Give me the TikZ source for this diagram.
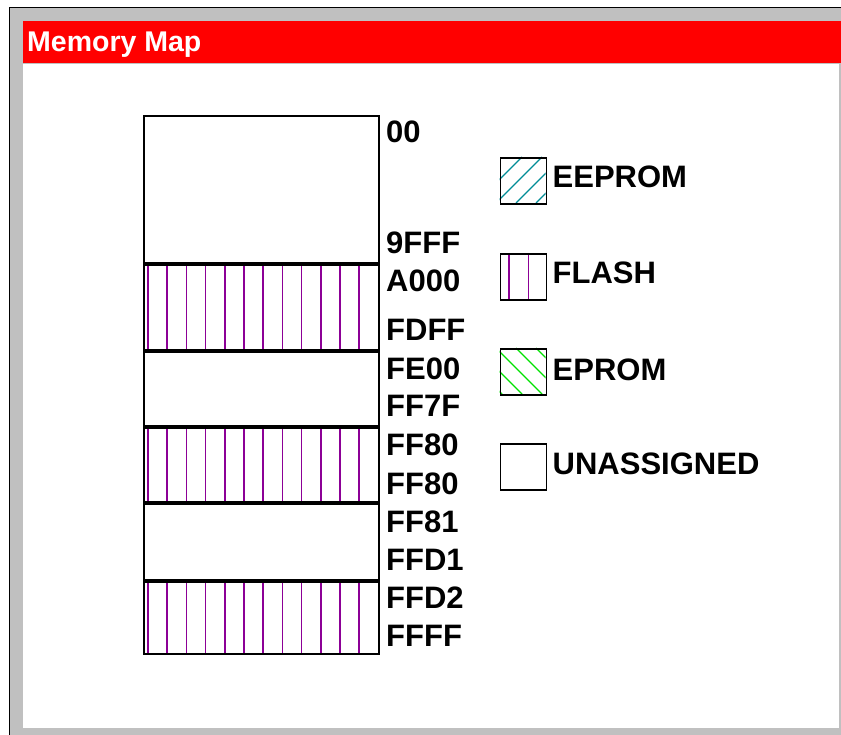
\documentclass[tikz,border=0pt]{standalone}
\usepackage{fontspec}
\setmainfont{Liberation Sans}
\definecolor{winred}{RGB}{255,0,0}
\definecolor{wingray}{RGB}{192,192,192}
\definecolor{flashpurple}{RGB}{140,0,150}
\definecolor{eeteal}{RGB}{0,140,150}
\definecolor{epgreen}{RGB}{0,225,0}
\begin{document}
\begin{tikzpicture}[x=1pt,y=-1pt,
  region/.style={rectangle, draw=black, line width=1.8pt, fill=white, inner sep=0pt,
    minimum width=235pt, anchor=north west},
  flash/.style={path picture={
    \foreach \i in {0,...,12}{
      \draw[flashpurple, line width=1.6pt]
        ([xshift={4pt+19.2pt*\i}]path picture bounding box.north west) --
        ([xshift={4pt+19.2pt*\i}]path picture bounding box.south west);}}},
  sep/.style={line width=3.6pt, black},
  addr/.style={anchor=base west, inner sep=0pt, font=\fontsize{31}{31}\selectfont\bfseries},
  legbox/.style={rectangle, draw=black, line width=1.8pt, fill=none, inner sep=0pt,
    minimum width=46pt, minimum height=46pt, anchor=north west},
  legtext/.style={anchor=base west, inner sep=0pt, font=\fontsize{31}{31}\selectfont\bfseries}]
\useasboundingbox (0,0) rectangle (841,735);
% window frame
\fill[white] (0,0) rectangle (841,735);
\fill[wingray] (9,7) rectangle (841,735);
\fill[white] (23,64) rectangle (839,728);
\fill[winred] (23,21) rectangle (841,63);
\draw[black, line width=1.6pt] (9.5,735) -- (9.5,7.5) -- (841,7.5);
\node[anchor=base west, inner sep=0pt, text=white,
  font=\fontsize{28.5}{28.5}\selectfont\bfseries] (title) at (27,52) {Memory Map};
% memory regions
\node[region, minimum height=147pt] (r1) at (143,115) {};
\node[region, flash, minimum height=87pt] (r2) at (143,262) {};
\node[region, minimum height=76pt] (r3) at (143,349) {};
\node[region, flash, minimum height=76pt] (r4) at (143,425) {};
\node[region, minimum height=78pt] (r5) at (143,501) {};
\node[region, flash, minimum height=74pt] (r6) at (143,579) {};
\foreach \r in {r1,r2,r3,r4,r5}
  \draw[sep] (\r.south west) -- (\r.south east);
% address labels
\node[addr] (a00) at (386,143) {00};
\node[addr] (a9fff) at (386,254) {9FFF};
\node[addr] (aa000) at (386,292) {A000};
\node[addr] (afdff) at (386,341) {FDFF};
\node[addr] (afe00) at (386,380) {FE00};
\node[addr] (aff7f) at (386,417) {FF7F};
\node[addr] (aff80a) at (386,455) {FF80};
\node[addr] (aff80b) at (386,494) {FF80};
\node[addr] (aff81) at (386,532) {FF81};
\node[addr] (affd1) at (386,570) {FFD1};
\node[addr] (affd2) at (386,608) {FFD2};
\node[addr] (affff) at (386,646) {FFFF};
% legend
\begin{scope}
  \clip (499.5,157) rectangle (545.5,203);
  \foreach \c in {679,699,719,739}
    \draw[eeteal, line width=1.4pt] (\c-157,157) -- (\c-203,203);
\end{scope}
\node[legbox] (leee) at (499.5,157) {};
\draw[flashpurple, line width=1.6pt] (509,253) -- (509,299);
\draw[flashpurple, line width=1.6pt] (528.5,253) -- (528.5,299);
\node[legbox] (lflash) at (499.5,253) {};
\begin{scope}
  \clip (499.5,348) rectangle (545.5,394);
  \foreach \c in {108,128,148,168,188}
    \draw[epgreen, line width=1.4pt] (\c+348,348) -- (\c+394,394);
\end{scope}
\node[legbox] (lep) at (499.5,348) {};
\node[legbox] (lun) at (499.5,443) {};
\node[legtext] (teee) at (552.5,188) {EEPROM};
\node[legtext] (tflash) at (552.5,283.5) {FLASH};
\node[legtext] (tep) at (552.5,381) {EPROM};
\node[legtext] (tun) at (552.5,474) {UNASSIGNED};
\end{tikzpicture}
\end{document}
